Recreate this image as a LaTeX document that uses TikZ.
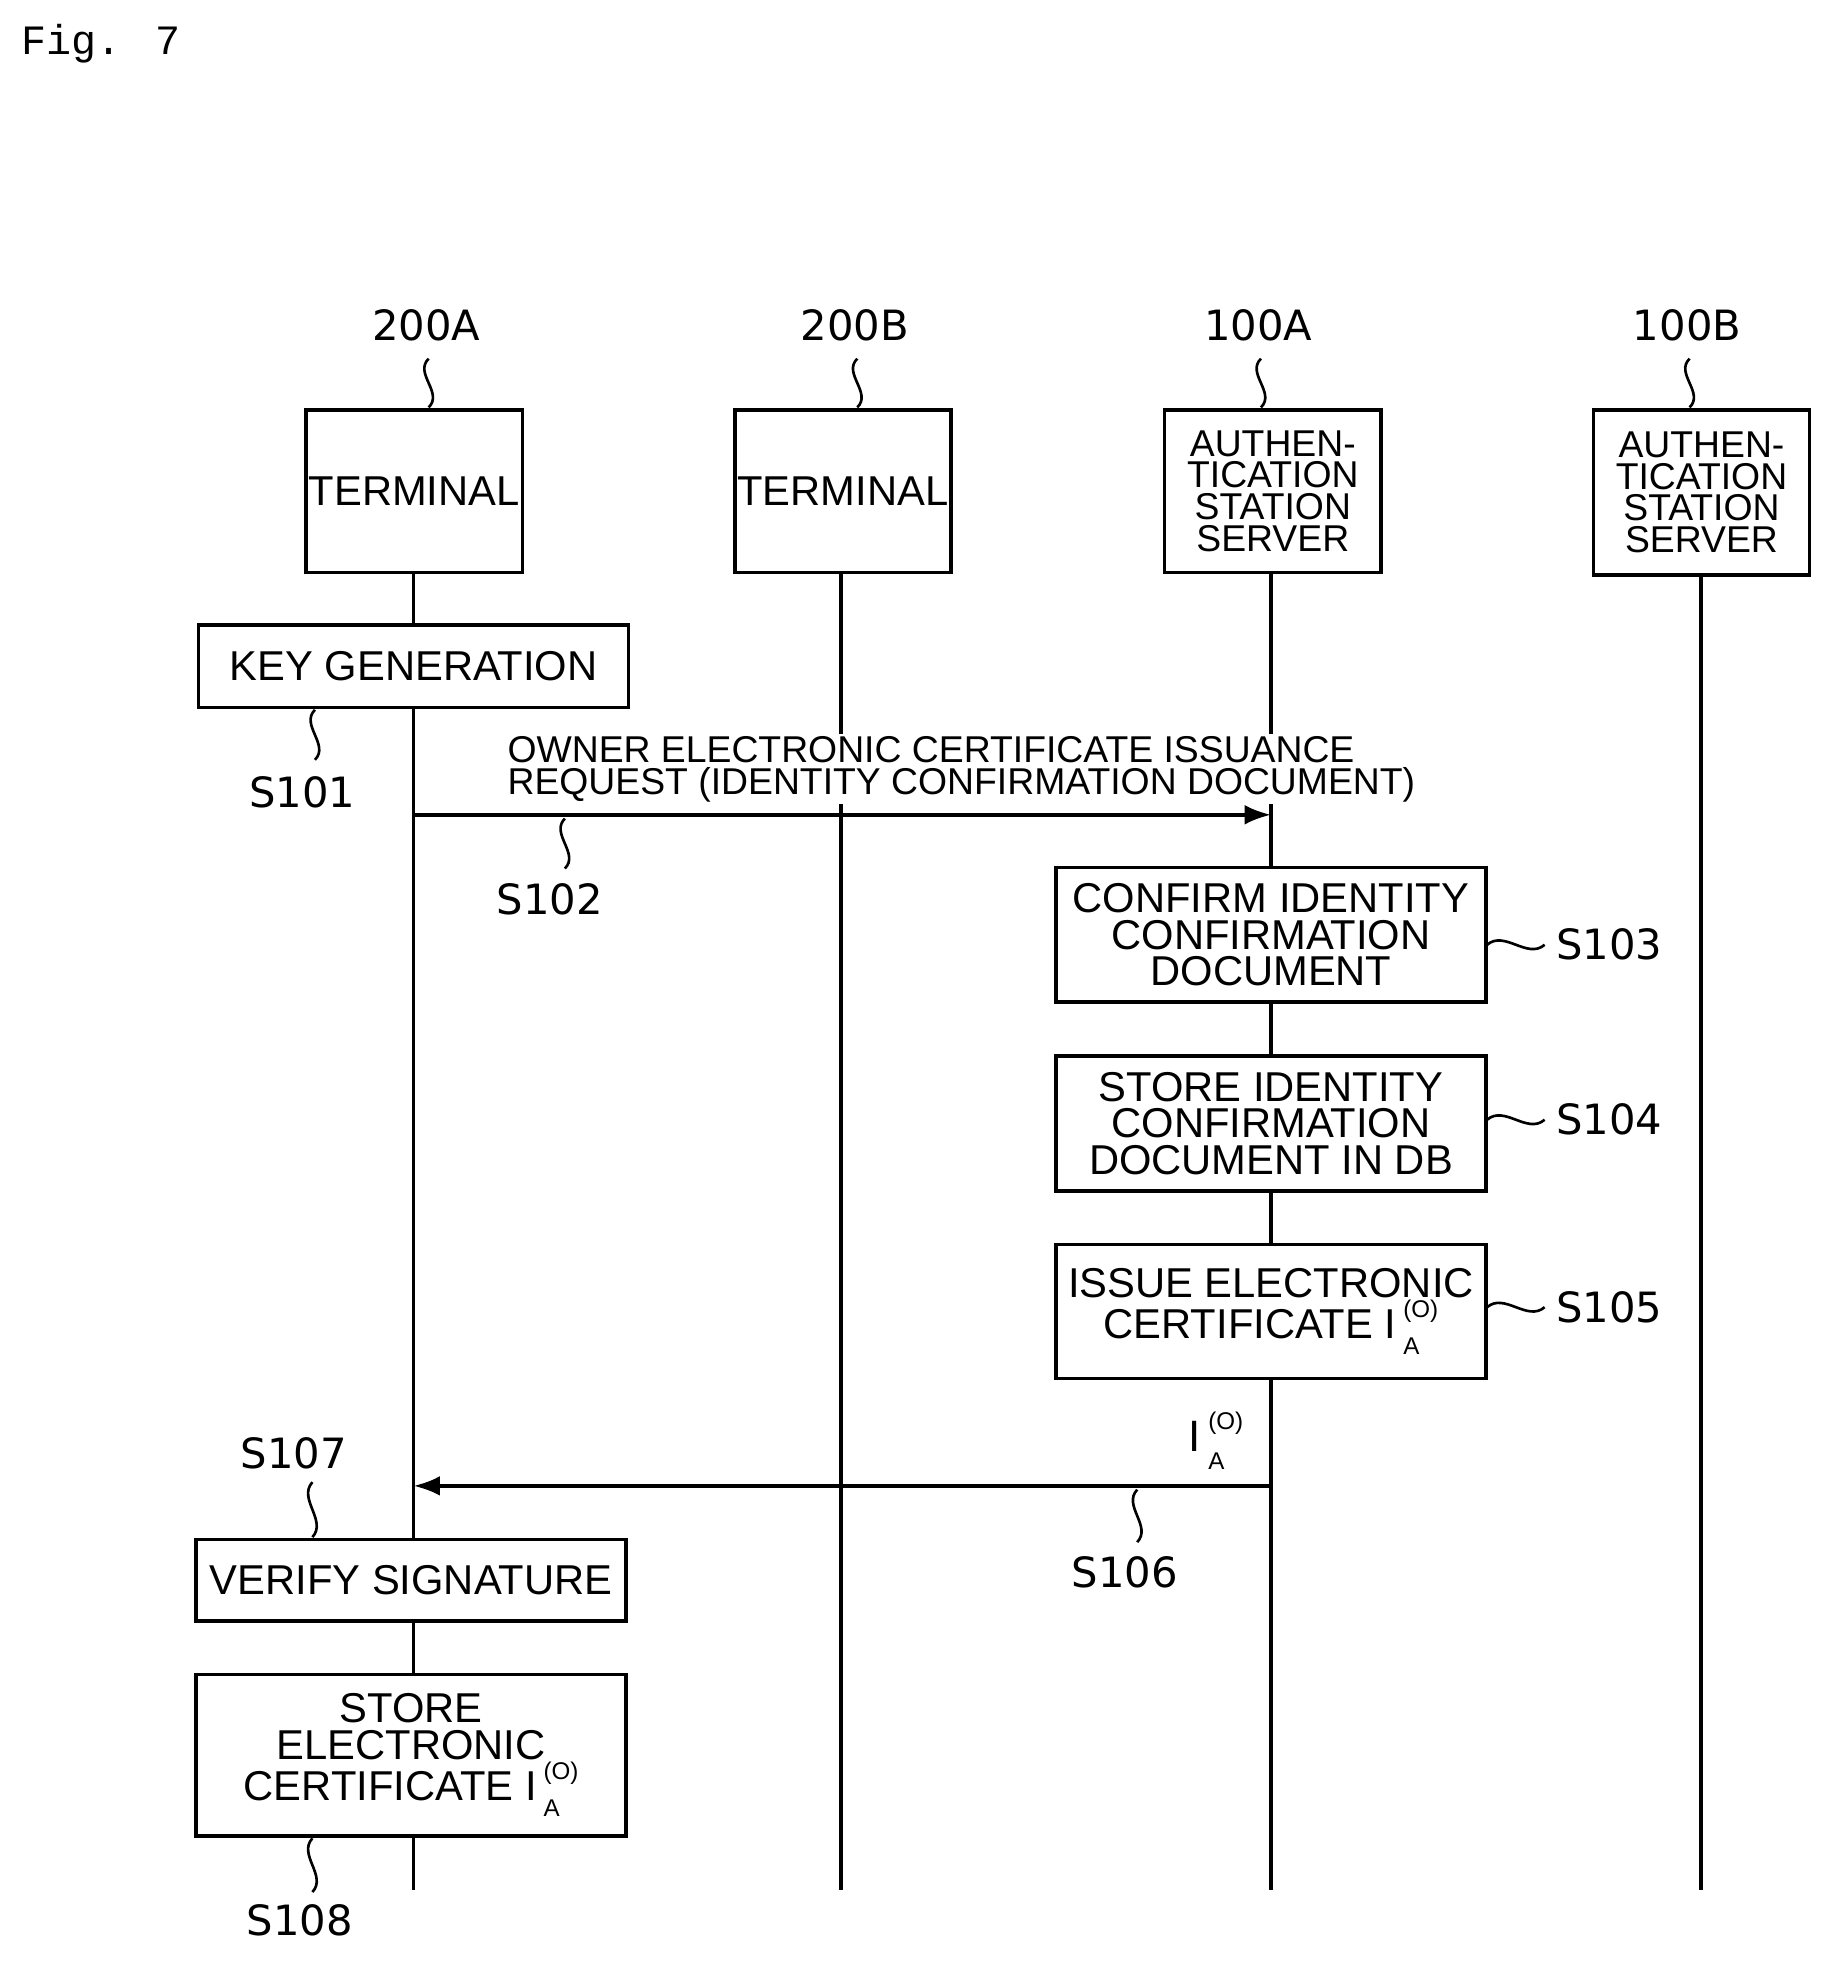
\documentclass[tikz,border=0pt]{standalone}
\usepackage{fontspec}
\usetikzlibrary{arrows.meta}
\setmainfont{Liberation Sans}
\newfontfamily\lblfont{DejaVu Sans}
\newfontfamily\figfont{Liberation Mono}
\newcommand\vsq[3]{\draw[line width=1.2pt] (#1,#2) .. controls ({#1-12},{#2+0.3*(#3-#2)}) and ({#1+12},{#2+0.7*(#3-#2)}) .. (#1,#3);}
\newcommand\hsq[3]{\draw[line width=1.2pt] (#1,#3) .. controls ({#1+0.3*(#2-#1)},{#3-12}) and ({#1+0.7*(#2-#1)},{#3+12}) .. (#2,#3);}
\newcommand\IAO{I\,\rlap{\raisebox{-0.4em}{\fontsize{11}{11}\selectfont A}}\raisebox{0.5em}{\fontsize{11}{11}\selectfont (O)}}
\begin{document}
\begin{tikzpicture}[x=0.02cm,y=-0.02cm,line width=1.6pt,
  box/.style={draw,fill=white,align=center,inner sep=0pt,font=\fontsize{19}{16.5}\selectfont},
  hbox/.style={draw,fill=white,align=center,inner sep=0pt,font=\fontsize{17}{14.5}\selectfont},
  lbl/.style={font=\lblfont\fontsize{19}{20}\selectfont},
  arr/.style={-{Latex[length=12pt,width=9pt]}}]
\useasboundingbox (0,0) rectangle (1475,1578);
\node[anchor=north west,font=\figfont\fontsize{19}{20}\selectfont] (fig) at (10,12) {Fig. 7};
% lifelines
\coordinate (a0) at (331,458); \coordinate (a1) at (331,1512);
\coordinate (b0) at (673,458); \coordinate (b1) at (673,1512);
\coordinate (c0) at (1017,458); \coordinate (c1) at (1017,1512);
\coordinate (d0) at (1361,458); \coordinate (d1) at (1361,1512);
\draw (a0)--(a1); \draw (b0)--(b1); \draw (c0)--(c1); \draw (d0)--(d1);
% headers
\node[lbl] (la) at (341,260) {200A}; \node[lbl] (lb) at (684,260) {200B};
\node[lbl] (lc) at (1007,260) {100A}; \node[lbl] (ld) at (1350,260) {100B};
\vsq{343}{287}{326} \vsq{686}{287}{326} \vsq{1009}{287}{326} \vsq{1352}{287}{326}
\node[box,minimum width=173*0.02cm,minimum height=130*0.02cm] (ta) at (331.5,393) {TERMINAL};
\node[box,minimum width=173*0.02cm,minimum height=130*0.02cm] (tb) at (674.5,393) {TERMINAL};
\node[hbox,minimum width=173*0.02cm,minimum height=130*0.02cm] (sa) at (1018.5,393) {AUTHEN-\\TICATION\\STATION\\SERVER};
\node[hbox,minimum width=173*0.02cm,minimum height=132*0.02cm] (sb) at (1361.5,394) {AUTHEN-\\TICATION\\STATION\\SERVER};
% S101
\node[box,minimum width=344*0.02cm,minimum height=66*0.02cm] (kg) at (331,533) {KEY GENERATION};
\vsq{252}{568}{608} \node[lbl] (s101) at (242,634) {S101};
% S102
\node[hbox,draw=none,align=left,anchor=north west,inner sep=1pt] (msg) at (403,586) {OWNER ELECTRONIC CERTIFICATE ISSUANCE\\REQUEST (IDENTITY CONFIRMATION DOCUMENT)};
\draw[arr] (331,652) -- (1017,652);
\vsq{452}{655}{695} \node[lbl] (s102) at (440,720) {S102};
% S103-105
\node[box,minimum width=344*0.02cm,minimum height=108*0.02cm] (b3) at (1017,748) {CONFIRM IDENTITY\\CONFIRMATION\\DOCUMENT};
\node[box,minimum width=344*0.02cm,minimum height=108*0.02cm] (b4) at (1017,899) {STORE IDENTITY\\CONFIRMATION\\DOCUMENT IN DB};
\node[box,minimum width=344*0.02cm,minimum height=107*0.02cm] (b5) at (1017,1049.5) {ISSUE ELECTRONIC\\CERTIFICATE \IAO};
\hsq{1190}{1236}{756} \node[lbl,anchor=west] (s103) at (1238,756) {S103};
\hsq{1190}{1236}{896} \node[lbl,anchor=west] (s104) at (1238,896) {S104};
\hsq{1190}{1236}{1046} \node[lbl,anchor=west] (s105) at (1238,1046) {S105};
% S106
\draw[arr] (1017,1189) -- (331,1189);
\node[font=\fontsize{20}{20}\selectfont] (ia) at (973,1153) {\IAO};
\vsq{910}{1192}{1234} \node[lbl] (s106) at (900,1258) {S106};
% S107, S108
\node[lbl] (s107) at (235,1163) {S107}; \vsq{250}{1186}{1230}
\node[box,minimum width=344*0.02cm,minimum height=65*0.02cm] (vs) at (329,1264.5) {VERIFY SIGNATURE};
\node[box,minimum width=344*0.02cm,minimum height=129*0.02cm] (st) at (329,1404.5) {STORE\\ELECTRONIC\\CERTIFICATE \IAO};
\vsq{250}{1471}{1514} \node[lbl] (s108) at (240,1537) {S108};
\end{tikzpicture}
\end{document}
